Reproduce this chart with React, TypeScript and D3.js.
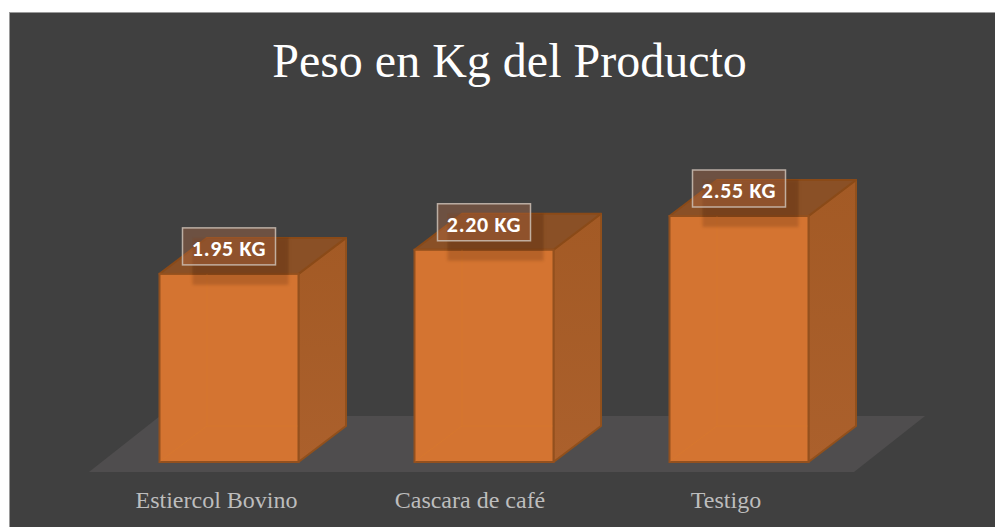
import React from "react";
import * as d3 from "d3";

const categories = ["Estiercol Bovino", "Cascara de café", "Testigo"];
const values = [1.95, 2.2, 2.55];
const valueLabels = ["1.95 KG", "2.20 KG", "2.55 KG"];
const title = "Peso en Kg del Producto";

const W = 995, H = 527;
const baseY = 462, depthX = 47.5, depthY = 36;
const x = d3.scaleBand<string>().domain(categories).range([159.5, 159.5 + 255 * 3]).paddingInner(0).paddingOuter(0).align(0);
const barW = 139;
const y = d3.scaleLinear().domain([0, 2.55]).range([baseY, 216]);
const labelNudge = [-12.5, -14, -13];
const serif = "'Liberation Serif', 'Times New Roman', serif";
const sans = "Carlito, Lato, 'Open Sans', sans-serif";
const poly = (pts: [number, number][]) => d3.line()(pts) + "Z";

export default function App() {
  return (
    <svg width={W} height={H} viewBox={`0 0 ${W} ${H}`} style={{ position: "absolute", left: 0, top: 0, display: "block", background: "#fff" }}>
      <defs>
        <filter id="soft" x="-20%" y="-40%" width="140%" height="180%"><feGaussianBlur stdDeviation="1.5" /></filter>
        <linearGradient id="sideG" x1="0" y1="0" x2="0" y2="1">
          <stop offset="0" stopColor="#A35A25" /><stop offset="1" stopColor="#AB602C" />
        </linearGradient>
      </defs>
      <rect x={9.5} y={12.5} width={W} height={H} fill="#404040" stroke="#9a9a9a" strokeWidth={1} />
      <path d={poly([[89, 472], [160, 416], [925, 416], [854, 472]])} fill="#4F4D4E" />
      <text x={509.5} y={77} textAnchor="middle" fontFamily={serif} fontSize={48} fill="#fff">{title}</text>
      {categories.map((c, i) => {
        const x0 = x(c)!;
        const x1 = x0 + barW;
        const top = y(values[i]);
        const lx = x0 + 23;
        const lw = 93;
        const lh = 37;
        const ly = top - 46;
        const cx = x0 + barW / 2;
        return (
          <g key={c}>
            <path d={poly([[x1, baseY], [x1 + depthX, baseY - depthY], [x1 + depthX, top - depthY], [x1, top]])} fill="url(#sideG)" stroke="#91501C" strokeWidth={2} strokeLinejoin="round" />
            <path d={poly([[x0, top], [x0 + depthX, top - depthY], [x1 + depthX, top - depthY], [x1, top]])} fill="#8A5026" stroke="#8A4A18" strokeWidth={2} strokeLinejoin="round" />
            <rect x={x0} y={top} width={barW} height={baseY - top} fill="#D47431" stroke="#93501E" strokeWidth={2} />
            <path d={`M${x0 + depthX},${top}V${baseY - depthY}M${x0 + 1},${baseY - 1}L${x0 + depthX},${baseY - depthY}M${x0 + depthX},${baseY - depthY}H${x1 - 1}`} fill="none" stroke="#DA7A2C" strokeWidth={1} opacity={0.5} />
            <rect x={lx + 10} y={ly + 10} width={lw + 3} height={lh + 10} fill="#5a2c0a" opacity={0.24} filter="url(#soft)" />
            <rect x={lx + 10} y={ly + 10} width={lw + 3} height={lh} fill="#5a2c0a" opacity={0.16} />
            <rect x={lx} y={ly} width={lw} height={lh} fill="#B86E46" fillOpacity={0.38} stroke="#CDBFB5" strokeOpacity={0.85} strokeWidth={1.5} />
            <text x={lx + lw / 2} y={ly + 28} textAnchor="middle" fontFamily={sans} fontWeight={700} fontSize={22} letterSpacing={0.7} fill="#fff">{valueLabels[i]}</text>
            <text x={cx + labelNudge[i]} y={507.5} textAnchor="middle" fontFamily={serif} fontSize={24} fill="#BDBDBD">{c}</text>
          </g>
        );
      })}
    </svg>
  );
}
